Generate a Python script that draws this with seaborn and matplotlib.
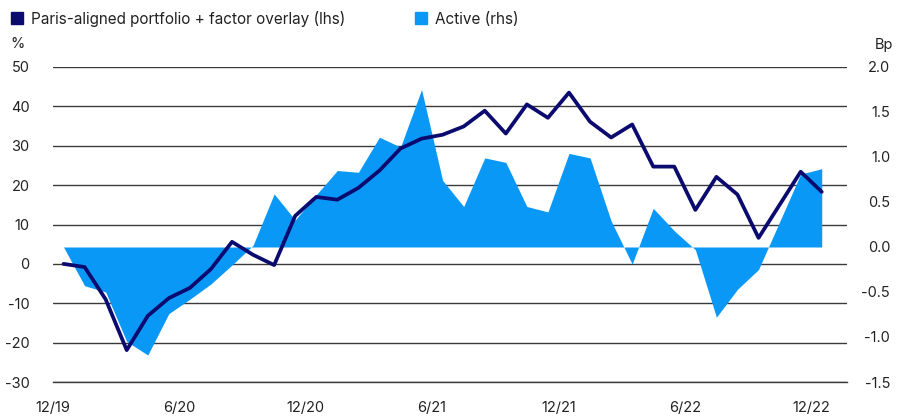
import matplotlib
matplotlib.use("Agg")
import matplotlib.pyplot as plt
from matplotlib.lines import Line2D
import seaborn as sns
import numpy as np
import pandas as pd

# ---- data ----
portfolio = [0.0, -0.8, -9.0, -21.9, -13.2, -8.7, -6.1, -1.3, 5.6, 2.3,
             -0.3, 12.2, 17.0, 16.3, 19.3, 23.7, 29.3, 31.8, 32.8, 34.9,
             38.9, 33.1, 40.5, 37.1, 43.5, 36.1, 32.1, 35.4, 24.7, 24.7,
             13.7, 22.1, 17.6, 6.6, 15.0, 23.4, 18.3]
active = [0.0, -0.43, -0.50, -1.05, -1.20, -0.74, -0.58, -0.41, -0.20, 0.02,
          0.59, 0.30, 0.58, 0.85, 0.83, 1.22, 1.11, 1.75, 0.74, 0.45,
          0.99, 0.94, 0.45, 0.39, 1.04, 0.99, 0.29, -0.19, 0.43, 0.18,
          -0.03, -0.78, -0.47, -0.25, 0.28, 0.81, 0.87]
month_idx = list(range(len(portfolio)))
tick_labels = ["12/19", "6/20", "12/20", "6/21", "12/21", "6/22", "12/22"]
left_ticks = [50, 40, 30, 20, 10, 0, -10, -20, -30]
right_ticks = [2.0, 1.5, 1.0, 0.5, 0.0, -0.5, -1.0, -1.5]
series_names = ["Paris-aligned portfolio + factor overlay (lhs)", "Active (rhs)"]

NAVY = "#0b0a6f"
BLUE = "#0a98f7"
TXT = "#222222"

df = pd.DataFrame({"m": month_idx, "portfolio": portfolio, "active": active})

sns.set_style("white")
plt.rcParams["font.family"] = ["Inter", "DejaVu Sans"]
plt.rcParams["font.size"] = 10.5

fig = plt.figure(figsize=(9.10, 4.16), dpi=100)
ax1 = fig.add_axes([53/910, 1 - 382/416, (847-53)/910, (382-67)/416])
ax2 = ax1.twinx()
ax3 = ax1.twinx()

# grid / left axis
ax1.set_ylim(-30, 50)
ax1.set_yticks(left_ticks)
ax1.set_yticklabels([str(v) for v in left_ticks])
ax1.set_xlim(-0.5, 37.2)
ax1.grid(axis="y", color="#3a3a3a", linewidth=1.0)
ax1.grid(axis="x", visible=False)
for s in ["top", "right", "left"]:
    ax1.spines[s].set_visible(False)
ax1.spines["bottom"].set_color("#3a3a3a")
ax1.spines["bottom"].set_linewidth(1.0)
xt = [i * 6 - 0.5 for i in range(len(tick_labels))]
ax1.set_xticks(xt)
ax1.set_xticklabels(tick_labels)
ax1.tick_params(axis="x", length=6, width=1, color="#3a3a3a", pad=8, labelcolor=TXT, labelsize=10.5)
ax1.tick_params(axis="y", length=0, pad=17, labelcolor=TXT, labelsize=10.5)
ax1.set_xlabel("")
ax1.set_ylabel("")

# area on right axis
ax2.fill_between(df["m"], 0, df["active"], color=BLUE, linewidth=0)
ax2.set_ylim(-1.5, 2.0)
ax2.set_yticks(right_ticks)
ax2.set_yticklabels([f"{v:.1f}" for v in right_ticks])
ax2.tick_params(axis="y", length=0, pad=31, labelcolor=TXT, labelsize=10.5)
for lab in ax2.get_yticklabels():
    lab.set_horizontalalignment("right")
ax2.grid(False)
for s in ax2.spines.values():
    s.set_visible(False)

# line on top, left scale
sns.lineplot(data=df, x="m", y="portfolio", ax=ax3, color=NAVY, linewidth=2.7)
ax3.set_ylim(ax1.get_ylim())
ax3.set_xlim(ax1.get_xlim())
ax3.axis("off")

fig.text(10/910, 1 - 44/416, "%", fontsize=10.5, color=TXT, va="center", ha="left")
fig.text(893/910, 1 - 45/416, "Bp", fontsize=10.5, color=TXT, va="center", ha="right")

handles = [Line2D([], [], marker="s", linestyle="none", markersize=8, color=NAVY),
           Line2D([], [], marker="s", linestyle="none", markersize=8, color=BLUE)]
fig.legend(handles, series_names, loc="upper left", bbox_to_anchor=(0.0, 1.0),
           ncol=2, frameon=False, fontsize=11, handlelength=0.8, handletextpad=0.5,
           columnspacing=4.6, borderaxespad=0.3, labelcolor=TXT)

fig.savefig("out.png", dpi=100)
